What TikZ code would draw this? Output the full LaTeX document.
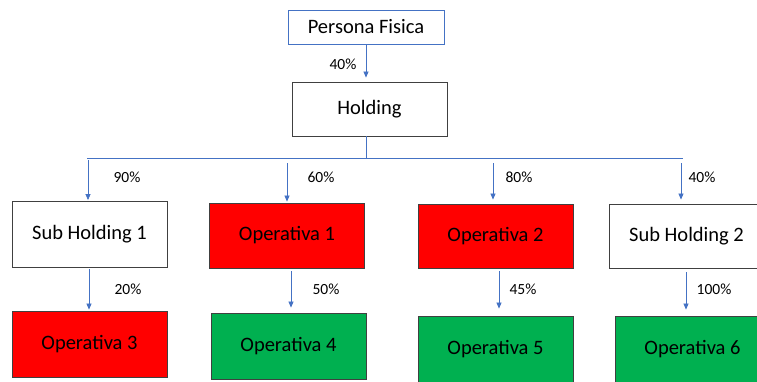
\documentclass[tikz,border=0pt]{standalone}
\usepackage{fontspec}
\setmainfont{Carlito}
\usetikzlibrary{arrows.meta}

\definecolor{linkblue}{HTML}{4472C4}
\definecolor{opred}{HTML}{FF0000}
\definecolor{opgreen}{HTML}{00B050}

\tikzset{
  box/.style={draw=black!75, line width=0.9pt, minimum width=155pt, minimum height=66pt,
    inner sep=0pt, font=\fontsize{20.5}{24}\selectfont},
  pct/.style={font=\fontsize{15.5}{18}\selectfont, inner sep=0pt},
  arr/.style={draw=linkblue, line width=0.7pt, -{Triangle[width=5pt,length=6pt]}}
}

\begin{document}
\begin{tikzpicture}[x=1pt,y=-1pt]
\useasboundingbox (0,0) rectangle (757,381);
\fill[white] (0,0) rectangle (757,381);

\node[box, draw=linkblue, minimum height=34pt, minimum width=156pt] (pf) at (366,27) {Persona Fisica};
\node[box, minimum height=54pt] (hold) at (369.5,109) {Holding};

\node[box] (sh1) at (89.5,234.5) {Sub Holding 1};
\node[box, fill=opred, minimum height=65pt] (op1) at (287,235.5) {Operativa 1};
\node[box, fill=opred, minimum height=64pt] (op2) at (495.5,236) {Operativa 2};
\node[box, minimum height=64pt] (sh2) at (686.5,236) {Sub Holding 2};

\node[box, fill=opred] (op3) at (89.5,344) {Operativa 3};
\node[box, fill=opgreen] (op4) at (288.5,346) {Operativa 4};
\node[box, fill=opgreen] (op5) at (495.5,349) {Operativa 5};
\node[box, fill=opgreen] (op6) at (692.5,349) {Operativa 6};

% bus line under the holding
\coordinate (bus) at (366,158);
\coordinate (busl) at (87,158);
\coordinate (busr) at (683,158);
\coordinate (t1) at (88,160);
\coordinate (t2) at (287,163);
\coordinate (t3) at (493,163);
\coordinate (t4) at (681,163);
% starts of the lower arrows
\coordinate (b1) at (89,269);
\coordinate (b2) at (291,271);
\coordinate (b3) at (499,271);
\coordinate (b4) at (686,272);

\draw[arr] (pf.south) -- ([yshift=4pt]pf.south |- hold.north);
\draw[draw=linkblue, line width=0.7pt] (hold.south -| bus) -- (bus);
\draw[draw=linkblue, line width=0.7pt] (busl) -- (busr);

\draw[arr] (t1) -- ([yshift=1pt]t1 |- sh1.north);
\draw[arr] (t2) -- ([yshift=1pt]t2 |- op1.north);
\draw[arr] (t3) -- ([yshift=4pt]t3 |- op2.north);
\draw[arr] (t4) -- ([yshift=4pt]t4 |- sh2.north);

\draw[arr] (b1) -- ([yshift=1pt]b1 |- op3.north);
\draw[arr] (b2) -- ([yshift=5pt]b2 |- op4.north);
\draw[arr] (b3) -- ([yshift=7pt]b3 |- op5.north);
\draw[arr] (b4) -- ([yshift=6pt]b4 |- op6.north);

\node[pct] (l0) at (343,64) {40\%};
\node[pct] (l1) at (127,177) {90\%};
\node[pct] (l2) at (321,177) {60\%};
\node[pct] (l3) at (519,177) {80\%};
\node[pct] (l4) at (702,177) {40\%};
\node[pct] (l5) at (128,289) {20\%};
\node[pct] (l6) at (326,289) {50\%};
\node[pct] (l7) at (523,289) {45\%};
\node[pct] (l8) at (714,289) {100\%};
\end{tikzpicture}
\end{document}
